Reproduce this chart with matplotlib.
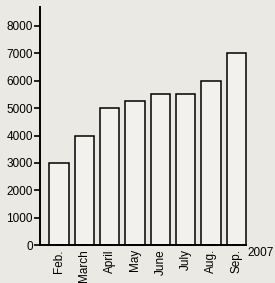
import matplotlib
matplotlib.use("Agg")
import matplotlib.pyplot as plt

months = ["Feb.", "March", "April", "May", "June", "July", "Aug.", "Sep."]
values = [3000, 4000, 5000, 5250, 5500, 5500, 6000, 7000]
yticks = [0, 1000, 2000, 3000, 4000, 5000, 6000, 7000, 8000]
year_label = "2007"

plt.rcParams['font.family'] = ['Liberation Sans', 'DejaVu Sans']
bg = '#ebe9e4'

fig = plt.figure(figsize=(2.75, 2.83), dpi=100, facecolor=bg)
ax = fig.add_axes([0.145, 0.134, 0.75, 0.841], facecolor=bg)

x = list(range(len(months)))
bars = ax.bar(x, values, width=0.76, facecolor='#f2f1ee', edgecolor='black', linewidth=1.1)
for b in bars:
    b.set_clip_on(False)

ax.set_xlim(-0.75, 7.38)
ax.set_ylim(0, 8690)
ax.set_yticks(yticks)
ax.set_yticklabels([str(v) for v in yticks], fontsize=8.5)
ax.set_xticks(x)
ax.set_xticklabels(months, rotation=90, fontsize=8.5)
ax.tick_params(axis='x', length=0, pad=3)
ax.tick_params(axis='y', length=4, width=1.2, pad=1)

for s in ['top', 'right']:
    ax.spines[s].set_visible(False)
for s in ['left', 'bottom']:
    ax.spines[s].set_linewidth(1.4)

ax.text(1.005, -0.035, year_label, transform=ax.transAxes, fontsize=8.5,
        ha='left', va='center')

fig.savefig("out.png", dpi=100, facecolor=bg)
